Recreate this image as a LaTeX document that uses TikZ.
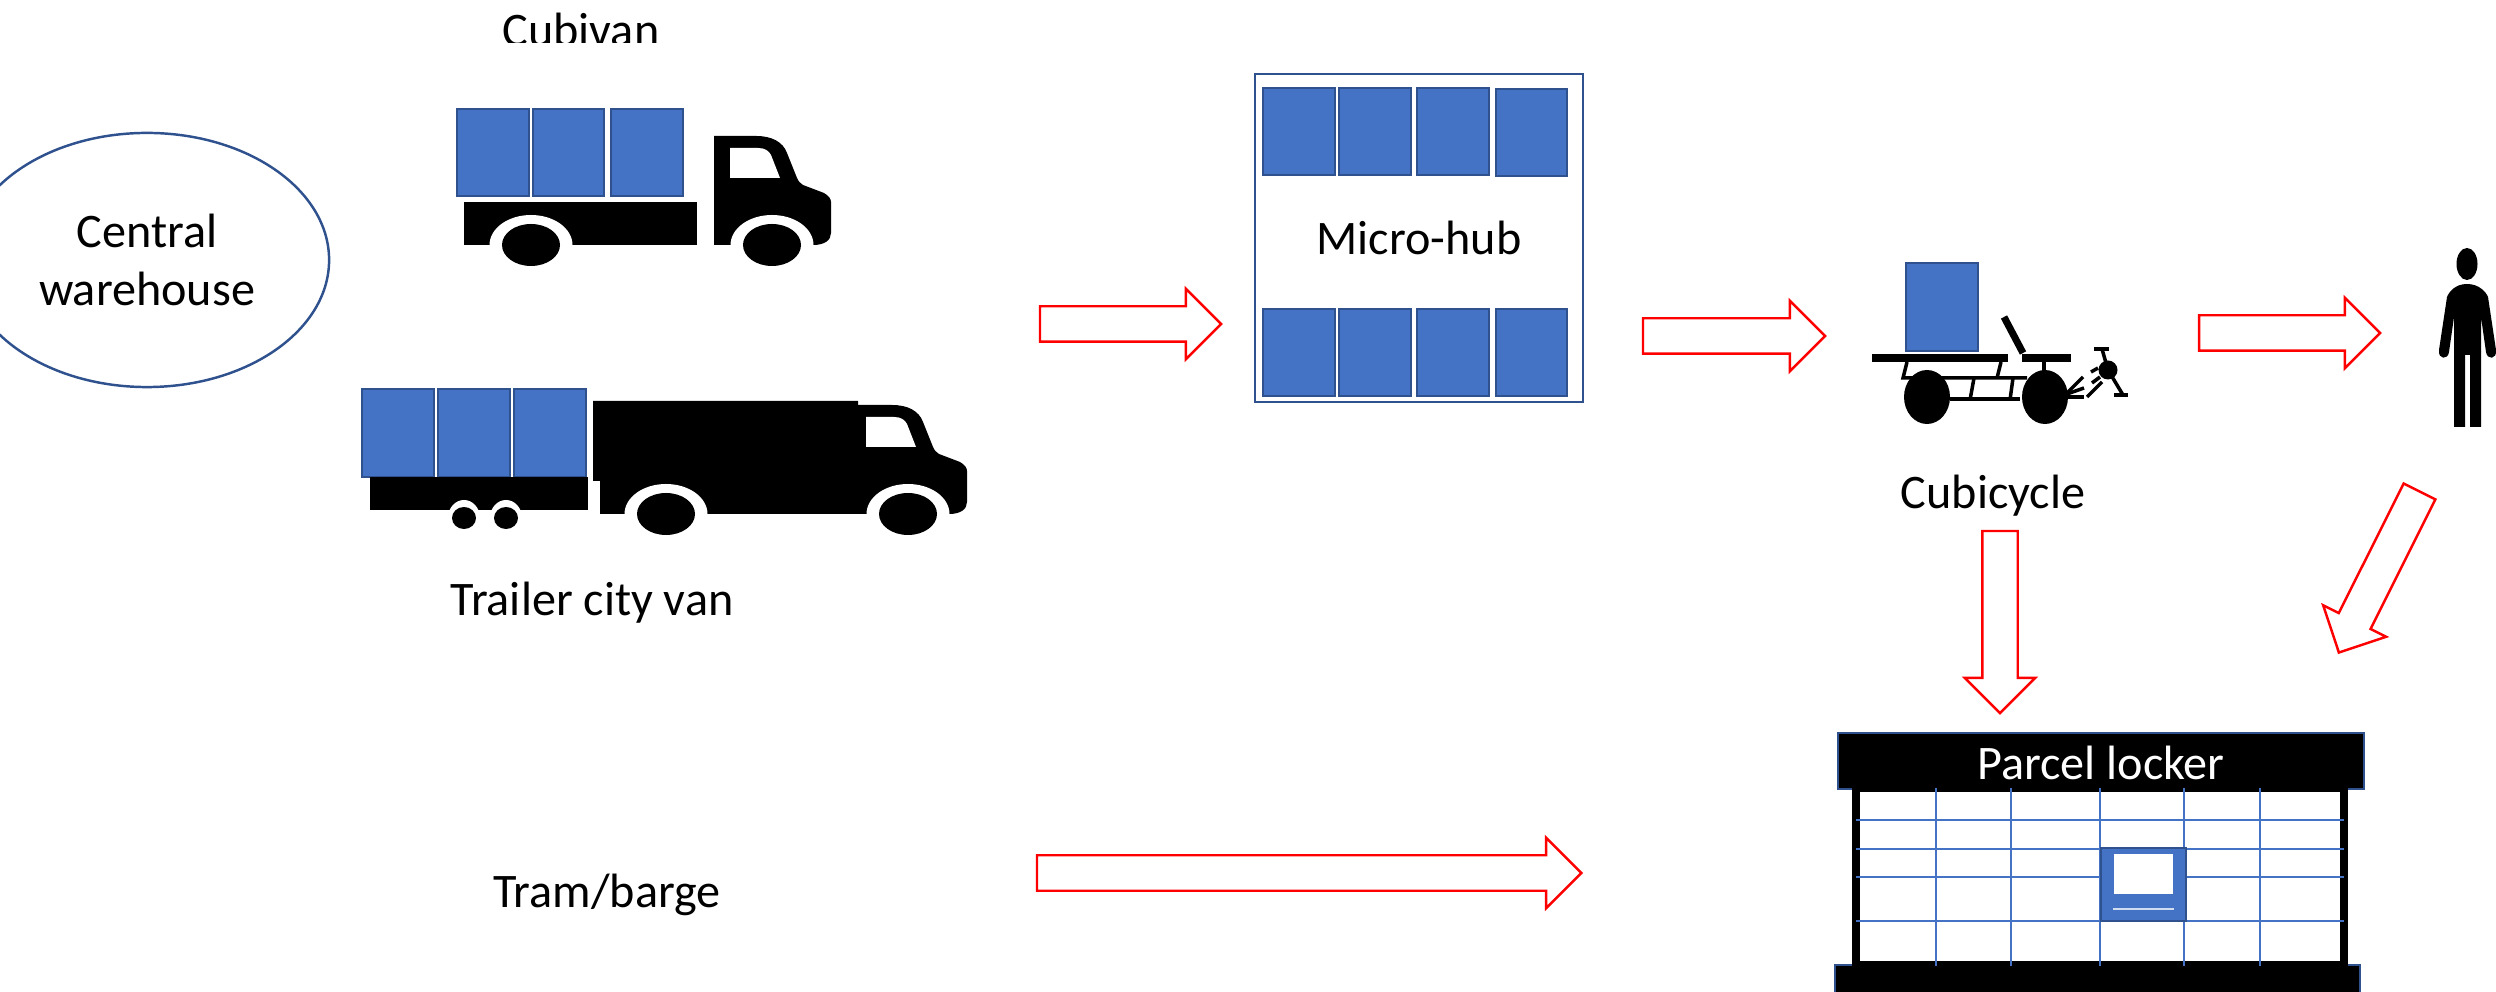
\documentclass[tikz,border=0pt]{standalone}
\usepackage{fontspec}
\usepackage{xcolor}
\usetikzlibrary{shapes.geometric}
\usetikzlibrary{shapes.arrows}
\setmainfont{Carlito}
\definecolor{boxblue}{HTML}{4472C4}
\definecolor{boxedge}{HTML}{2F528F}

\begin{document}
\begin{tikzpicture}[
	x=0.01cm, y=-0.01cm,
	label/.style={font=\fontsize{13.7}{16.5}\selectfont, inner sep=0, align=center},
	parcelbox/.style={draw=boxedge, fill=boxblue, line width=0.7pt},
	flowarrow/.style={single arrow, draw=red, line width=0.7pt, anchor=tail, inner xsep=0, inner ysep=0.165cm, outer sep=0, minimum width=0.68cm, single arrow head extend=0.175cm, single arrow tip angle=90},
	bar/.style={line width=1pt},
	gridline/.style={draw=boxblue, line width=0.3pt},
	truckcab/.pic={
		\fill (714,136) -- (756,136) .. controls (772,136) and (783,142) .. (787,153) -- (797,178) .. controls (799,182) and (800,183) .. (803,185) -- (824,193) .. controls (829,196) and (831,199) .. (831,202) -- (831,233) .. controls (831,240) and (825,245) .. (813,245) -- (714,245) -- cycle;
		\fill[white] (730,148) -- (758,148) .. controls (765,148) and (769,151) .. (771,155) -- (780,178) -- (730,178) -- cycle;
		\fill[white] (772,245) ellipse [x radius=41.5, y radius=30];
		\fill (772,245) ellipse [x radius=29, y radius=21];
	}]
	\clip (0,0) rectangle (2496,992);

	% Draw warehouse
	\node (warehouse) [ellipse, draw=boxedge, line width=0.7pt, minimum width=3.64cm, minimum height=2.54cm, inner sep=0, label] at (147,260) {Central\\warehouse};

	% Draw cubivan
	\begin{scope}
		\clip (480,0) rectangle (700,43);
		\node (cubivan) [label] at (581,30) {Cubivan};
	\end{scope}
	\draw[parcelbox] (457,109) rectangle (529,196);
	\draw[parcelbox] (533,109) rectangle (604,196);
	\draw[parcelbox] (611,109) rectangle (683,196);
	\fill (464,202) rectangle (697,245);
	\fill[white] (531,245) ellipse [x radius=41.5, y radius=30];
	\fill (531,245) ellipse [x radius=29, y radius=21];
	\pic at (0,0) {truckcab};

	% Draw trailer city van
	\fill (593,401) -- (858,401) -- (858,420) -- (870,514) -- (600,514) -- (600,481) -- (593,481) -- cycle;
	\pic at (136,269) {truckcab};
	\fill[white] (666,514) ellipse [x radius=41.5, y radius=30];
	\fill (666,514) ellipse [x radius=29, y radius=21];
	\draw[parcelbox] (362,389) rectangle (434,477);
	\draw[parcelbox] (438,389) rectangle (510,477);
	\draw[parcelbox] (514,389) rectangle (586,477);
	\fill (370,477) rectangle (588,510);
	\fill[white] (464,518) ellipse [x radius=16, y radius=18];
	\fill[white] (506,518) ellipse [x radius=16, y radius=18];
	\fill (464,518) ellipse [x radius=12, y radius=11];
	\fill (506,518) ellipse [x radius=12, y radius=11];
	\node (trailervan) [label] at (592,603) {Trailer city van};

	% Draw micro-hub
	\node (hub) [draw=boxedge, line width=0.7pt, minimum size=3.28cm, inner sep=0, label] at (1419,238) {Micro-hub};
	\draw[parcelbox] (1263,88) rectangle (1335,175);
	\draw[parcelbox] (1339,88) rectangle (1411,175);
	\draw[parcelbox] (1417,88) rectangle (1489,175);
	\draw[parcelbox] (1496,89) rectangle (1567,176);
	\draw[parcelbox] (1263,309) rectangle (1335,396);
	\draw[parcelbox] (1339,309) rectangle (1411,396);
	\draw[parcelbox] (1417,309) rectangle (1489,396);
	\draw[parcelbox] (1496,309) rectangle (1567,396);

	% Draw cubicycle
	\draw[parcelbox] (1906,263) rectangle (1978,351);
	\fill (1872,354) rectangle (2008,362);
	\fill (2022,354) rectangle (2071,362);
	\draw[line width=2pt] (2004,317) -- (2023,353);
	\draw[bar] (1907,362) -- (1903,378) -- (2027,378);
	\draw[bar] (2001,362) -- (1997,378);
	\draw[bar] (1974,378) -- (1970,400);
	\draw[bar] (2013,378) -- (2010,400);
	\draw[bar] (1950,399) -- (2020,399);
	\draw[bar] (2044,362) -- (2044,392);
	\fill (1927,397) ellipse [x radius=23, y radius=27];
	\fill (2045,397) ellipse [x radius=23, y radius=27];
	\draw[bar] (2067,393) -- (2083,377);
	\draw[bar] (2067,394) -- (2084,388);
	\draw[bar] (2068,397) -- (2084,397);
	\draw[bar] (2091,372) -- (2098,368);
	\draw[bar] (2092,383) -- (2100,377);
	\draw[bar] (2087,397) -- (2102,382);
	\fill (2108,370) circle [radius=9.5];
	\draw[bar] (2102,349) -- (2108,370) -- (2123,395);
	\draw[bar] (2094,349) -- (2109,349);
	\draw[bar] (2114,395) -- (2128,395);
	\node (cubicycle) [label] at (1993,496) {Cubicycle};

	% Draw person
	\fill (2467,264) ellipse [x radius=10.5, y radius=16];
	\fill (2467,284) .. controls (2455,284) and (2449,292) .. (2447,297) -- (2439,350) .. controls (2438,360) and (2448,360) .. (2449,352) -- (2454,317) -- (2454,427) -- (2465,427) -- (2465,355) -- (2470,355) -- (2470,427) -- (2481,427) -- (2481,317) -- (2486,352) .. controls (2487,360) and (2497,360) .. (2496,350) -- (2488,297) .. controls (2486,292) and (2479,284) .. (2467,284) -- cycle;

	% Draw parcel locker
	\fill (1852,789) rectangle (2348,965);
	\fill[white] (1860,792) rectangle (2340,961);
	\draw[fill=black, draw=boxedge, line width=0.7pt] (1838,733) rectangle (2364,789);
	\draw[fill=black, draw=boxedge, line width=0.7pt] (1835,965) rectangle (2360,1010);
	\fill (1852,787) rectangle (2348,792);
	\fill (1852,961) rectangle (2348,967);
	\draw[gridline] (1936,788) -- (1936,966);
	\draw[gridline] (2011,788) -- (2011,966);
	\draw[gridline] (2100,788) -- (2100,966);
	\draw[gridline] (2184,788) -- (2184,966);
	\draw[gridline] (2260,788) -- (2260,966);
	\draw[gridline] (1856,820) -- (2344,820);
	\draw[gridline] (1856,849) -- (2344,849);
	\draw[gridline] (1856,877) -- (2344,877);
	\draw[gridline] (1856,921) -- (2344,921);
	\draw[parcelbox] (2101,848) rectangle (2186,921);
	\fill[white] (2114,854) rectangle (2173,894);
	\draw[white!75!boxblue, line width=0.45pt] (2113,909) -- (2174,909);
	\node (locker) [label, text=white] at (2101,763) {Parcel locker};

	% Draw tram/barge
	\node (tram) [label] at (607,895) {Tram/barge};

	% Draw flow arrows
	\node (hubarrow) [flowarrow, minimum height=1.81cm] at (1040,324) {};
	\node (cyclearrow) [flowarrow, minimum height=1.82cm] at (1643,336) {};
	\node (personarrow) [flowarrow, minimum height=1.81cm] at (2199,333) {};
	\node (lockerarrow) [flowarrow, minimum height=1.82cm, rotate=270] at (2000,531) {};
	\node (returnarrow) [flowarrow, minimum height=1.80cm, rotate=243.4] at (2419.5,491.5) {};
	\node (tramarrow) [flowarrow, minimum height=5.44cm] at (1037,873) {};
\end{tikzpicture}
\end{document}
